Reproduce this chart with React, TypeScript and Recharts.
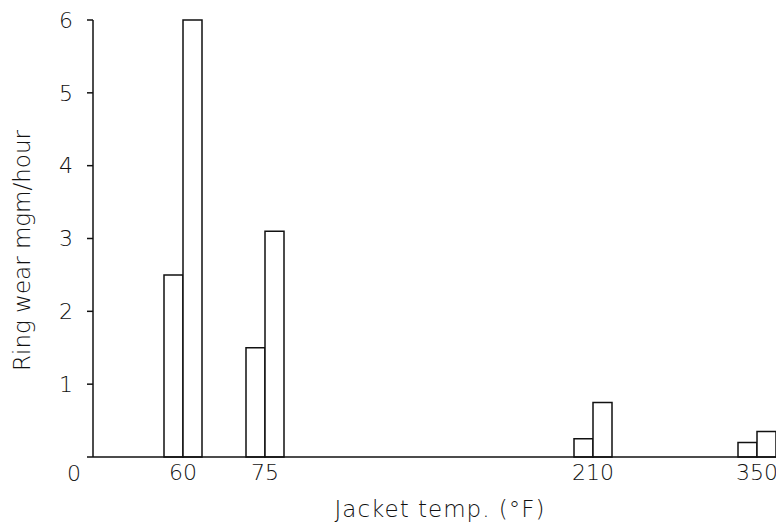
import React from 'react';
import { BarChart, Bar, XAxis, YAxis, Label } from 'recharts';

// jacket temperatures (°F); blank slots keep the uneven spacing of the original axis
const axisSlots = ['60', '75', '', '', '', '210', '', '350'];
const temps = ['60', '75', '210', '350'];
const wearLow = [2.5, 1.5, 0.25, 0.2];
const wearHigh = [6.0, 3.1, 0.75, 0.35];
const yTicks = [0, 1, 2, 3, 4, 5, 6];

const data = axisSlots.map((slot, i) => {
  const idx = temps.indexOf(slot);
  return {
    key: `${slot}-${i}`,
    temp: slot,
    low: idx >= 0 ? wearLow[idx] : null,
    high: idx >= 0 ? wearHigh[idx] : null,
  };
});

const FONT = "'DejaVu Sans', sans-serif";
const INK = '#111';

const YTick = ({ x, y, payload }: any) => {
  const isZero = payload.value === 0;
  return (
    <text
      x={isZero ? x + 8 : x}
      y={isZero ? y + 16 : y}
      dy="0.355em"
      textAnchor="end"
      fontFamily={FONT}
      fontWeight={200}
      fontSize={22}
      fill={INK}
    >
      {payload.value}
    </text>
  );
};

export default function App() {
  return (
    <div style={{ width: 784, height: 532, margin: -8, overflow: 'hidden', background: '#fff' }}>
      <BarChart
        width={800}
        height={532}
        data={data}
        margin={{ top: 20, right: 2, bottom: 35, left: 0 }}
        barGap={0}
        barSize={19}
      >
        <XAxis
          dataKey="temp"
          height={40}
          axisLine={{ stroke: INK, strokeWidth: 1.5 }}
          tickLine={false}
          tickSize={0}
          tickMargin={7}
          padding={{ left: 49, right: 0 }}
          interval={0}
          tick={{ fontFamily: FONT, fontWeight: 200, fontSize: 22, fill: INK }}
        >
          <Label
            content={({ viewBox }: any) => (
              <text
                x={440}
                y={viewBox.y + 60}
                textAnchor="middle"
                fontFamily={FONT}
                fontWeight={200}
                fontSize={23}
                letterSpacing={1}
                fill={INK}
              >
                Jacket temp. (°F)
              </text>
            )}
          />
        </XAxis>
        <YAxis
          width={93}
          domain={[0, 6]}
          ticks={yTicks}
          interval={0}
          axisLine={{ stroke: INK, strokeWidth: 1.5 }}
          tickLine={{ stroke: INK, strokeWidth: 1.5 }}
          tickSize={6}
          tickMargin={14}
          tick={<YTick />}
        >
          <Label
            content={({ viewBox }: any) => {
              const cx = viewBox.x + 22;
              const cy = viewBox.y + viewBox.height / 2 + 12;
              return (
                <text
                  x={cx}
                  y={cy}
                  transform={`rotate(-90, ${cx}, ${cy})`}
                  textAnchor="middle"
                  dominantBaseline="central"
                  fontFamily={FONT}
                  fontWeight={200}
                  fontSize={23}
                  fill={INK}
                >
                  Ring wear mgm/hour
                </text>
              );
            }}
          />
        </YAxis>
        <Bar dataKey="low" fill="#fff" stroke={INK} strokeWidth={1.5} isAnimationActive={false} />
        <Bar dataKey="high" fill="#fff" stroke={INK} strokeWidth={1.5} isAnimationActive={false} />
      </BarChart>
    </div>
  );
}
